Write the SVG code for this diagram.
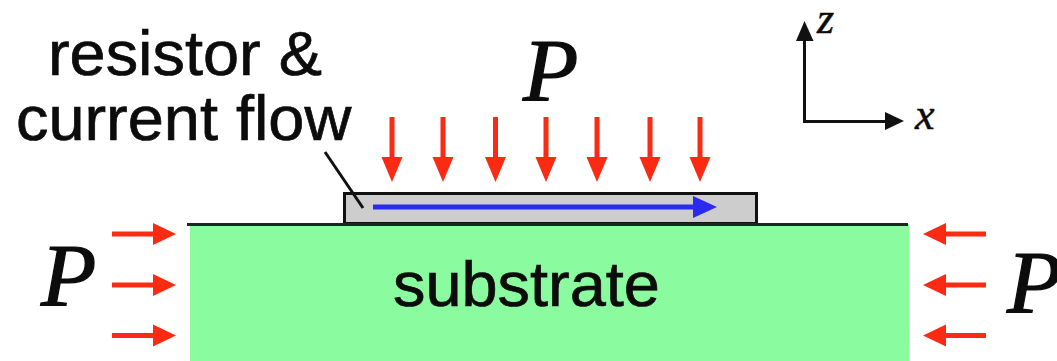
<svg xmlns="http://www.w3.org/2000/svg" width="1057" height="361" viewBox="0 0 1057 361">
<style>
.sans{font-family:"Liberation Sans",Arial,sans-serif;fill:#0c0c0c;stroke:#0c0c0c;stroke-width:.7}
.ital{font-family:"Liberation Serif","Times New Roman",serif;font-style:italic;fill:#0c0c0c;stroke:#0c0c0c;stroke-width:1.2}
.small{stroke-width:.5}
.red{stroke:#fb2a12;stroke-width:5;fill:none}
.redh{fill:#fb2a12}
.blk{stroke:#111;stroke-width:3;fill:none}
</style>
<rect width="1057" height="361" fill="#fff"/>
<g id="substrate">
<rect x="190" y="224" width="719" height="137" fill="#8afc9f"/>
<text class="sans" transform="translate(393 306) scale(1.03 1)" font-size="63">substrate</text>
</g>
<g id="resistor">
<rect x="344.500" y="193.500" width="412" height="30" fill="#cdcdcd" stroke="#111" stroke-width="3"/>
</g>
<line x1="187" y1="224.500" x2="908" y2="224.500" stroke="#1c2a1c" stroke-width="3"/>
<g id="resistor-label">
<text class="sans" transform="translate(48 74.500) scale(1.03 1)" font-size="63">resistor &amp;</text>
<text class="sans" transform="translate(16 139.500) scale(1.03 1)" font-size="63">current flow</text>
</g>
<g id="connectors">
<line class="blk" x1="325" y1="152" x2="363" y2="208"/>
<g id="current">
<line x1="373" y1="207" x2="695" y2="207" stroke="#2b2bf0" stroke-width="5"/>
<polygon points="693,196 717,207 693,218" fill="#2b2bf0"/>
</g>
<g id="pressure-top">
<path class="red" d="M392 117V160M443 117V160M495.500 117V160M546 117V160M597 117V160M650 117V160M700 117V160"/>
<g class="redh">
<polygon points="381.500,157 402.500,157 392,182"/>
<polygon points="432.500,157 453.500,157 443,182"/>
<polygon points="485,157 506,157 495.500,182"/>
<polygon points="535.500,157 556.500,157 546,182"/>
<polygon points="586.500,157 607.500,157 597,182"/>
<polygon points="639.500,157 660.500,157 650,182"/>
<polygon points="689.500,157 710.500,157 700,182"/>
</g>
</g>
<g id="pressure-left">
<path class="red" d="M112 234H156M112 285H156M112 335.500H156"/>
<g class="redh">
<polygon points="153,223 176,234 153,245"/>
<polygon points="153,274 176,285 153,296"/>
<polygon points="153,324.500 176,335.500 153,346.500"/>
</g>
</g>
<g id="pressure-right">
<path class="red" d="M986 234H943M986 285H943M986 335.500H943"/>
<g class="redh">
<polygon points="946,223 923,234 946,245"/>
<polygon points="946,274 923,285 946,296"/>
<polygon points="946,324.500 923,335.500 946,346.500"/>
</g>
</g>
<g id="axes">
<path class="blk" d="M804.500 38V121.500H888"/>
<polygon points="796,41 813.500,41 804.500,21" fill="#111"/>
<polygon points="885,112 904,121 885,130" fill="#111"/>
</g>
</g>
<g id="labels">
<text class="ital small" x="817" y="33" font-size="44">z</text>
<text class="ital small" x="915" y="129" font-size="44">x</text>
<text class="ital" transform="translate(523 100) scale(1.03 1)" font-size="88">P</text>
<text class="ital" transform="translate(41 305) scale(1.03 1)" font-size="88">P</text>
<text class="ital" transform="translate(1007 312) scale(1.03 1)" font-size="88">P</text>
</g>
</svg>
